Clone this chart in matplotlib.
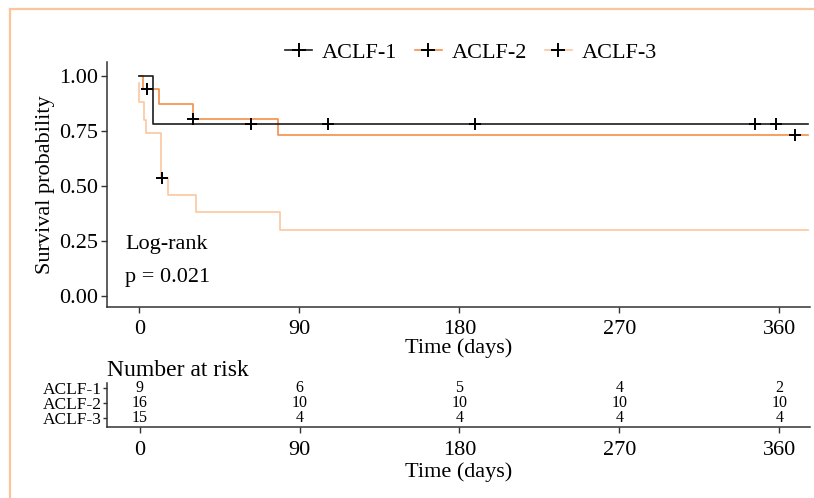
import numpy as np
import matplotlib
matplotlib.use("Agg")
import matplotlib.pyplot as plt
from matplotlib.lines import Line2D

plt.rcParams["font.family"] = ["Liberation Serif", "DejaVu Serif"]

# Kaplan-Meier steps (time in days, survival after step)
aclf1_t = [0, 7.5, 376]
aclf1_s = [1.00, 0.778, 0.778]
aclf1_cens_t = [63, 106, 189, 346, 358]
aclf1_cens_s = [0.778, 0.778, 0.778, 0.778, 0.778]

aclf2_t = [0, 2, 11, 30.5, 78, 376]
aclf2_s = [1.00, 0.9375, 0.871, 0.804, 0.731, 0.731]
aclf2_cens_t = [4.5, 30, 369]
aclf2_cens_s = [0.9375, 0.804, 0.731]

aclf3_t = [0, 0, 2.5, 4, 12, 16, 32, 79, 376]
aclf3_s = [0.968, 0.882, 0.80, 0.74, 0.533, 0.457, 0.381, 0.30, 0.30]
aclf3_cens_t = [13]
aclf3_cens_s = [0.533]

groups = ["ACLF-1", "ACLF-2", "ACLF-3"]
colors = ["#1c1c1c", "#F4904C", "#FCC6A0"]

risk_times = [0, 90, 180, 270, 360]
risk_aclf1 = [9, 6, 5, 4, 2]
risk_aclf2 = [16, 10, 10, 10, 10]
risk_aclf3 = [15, 4, 4, 4, 4]

W, H = 814, 498
fig = plt.figure(figsize=(W / 100, H / 100), dpi=100)

axc = "#333333"
fs = 16

def px_box(l, t, r, b):
    return [l / W, 1 - b / H, (r - l) / W, (b - t) / H]

ax = fig.add_axes(px_box(106.7, 61.7, 810, 307))
xlim = (-18.3, 377.2)

curves = [(aclf1_t, aclf1_s, aclf1_cens_t, aclf1_cens_s),
          (aclf2_t, aclf2_s, aclf2_cens_t, aclf2_cens_s),
          (aclf3_t, aclf3_s, aclf3_cens_t, aclf3_cens_s)]

# draw lightest first so the black one sits on top
for i in [2, 1, 0]:
    t, s, ct, cs = curves[i]
    ax.step(t, s, where="post", color=colors[i], lw=1.2, zorder=2 + (2 - i))
for i in [2, 1, 0]:
    t, s, ct, cs = curves[i]
    ax.plot(ct, cs, ls="none", marker="+", ms=9, mew=1.4, color="black", zorder=6)

ax.set_xlim(*xlim)
ax.set_ylim(-0.0523, 1.0637)
ax.set_xticks(risk_times)
ax.set_yticks([0, 0.25, 0.5, 0.75, 1.0])
ax.set_yticklabels(["0.00", "0.25", "0.50", "0.75", "1.00"])
for sp in ["top", "right"]:
    ax.spines[sp].set_visible(False)
for sp in ["left", "bottom"]:
    ax.spines[sp].set_color(axc)
    ax.spines[sp].set_linewidth(1.1)
ax.tick_params(colors=axc, labelcolor="black", labelsize=fs, length=4, width=1.0, pad=2)
ax.tick_params(axis="x", pad=5)
ax.set_xlabel("Time (days)", fontsize=fs, labelpad=0)
ax.set_ylabel("Survival probability", fontsize=fs, labelpad=3)

ax.text(-8, 0.23, "Log-rank", fontsize=fs, va="center", ha="left")
ax.text(-8, 0.08, "p = 0.021", fontsize=fs, va="center", ha="left")

handles = [Line2D([0], [0], color=colors[i], lw=1.2, marker="+", ms=10, mew=1.4,
                  markeredgecolor="black") for i in range(3)]
fig.legend(handles, groups, loc="center", bbox_to_anchor=(471 / W, 1 - 53 / H),
           ncol=3, frameon=False, fontsize=fs, handlelength=1.2, handletextpad=0.45,
           columnspacing=0.8)

# number at risk table
axr = fig.add_axes(px_box(107, 383, 810, 427))
axr.set_xlim(*xlim)
axr.set_ylim(0.4, 3.33)
rows = [risk_aclf1, risk_aclf2, risk_aclf3]
for j, vals in enumerate(rows):
    for x, v in zip(risk_times, vals):
        axr.text(x, 3 - j, str(v), ha="center", va="center", fontsize=11.5)
axr.set_yticks([3, 2, 1])
axr.set_yticklabels(groups, fontsize=12.5)
axr.set_xticks(risk_times)
for sp in ["top", "right"]:
    axr.spines[sp].set_visible(False)
for sp in ["left", "bottom"]:
    axr.spines[sp].set_color(axc)
    axr.spines[sp].set_linewidth(1.1)
axr.tick_params(axis="x", colors=axc, labelcolor="black", labelsize=fs, length=4, width=1.0, pad=6)
axr.tick_params(axis="y", colors=axc, labelcolor="black", length=3, width=1.0, pad=1)
axr.set_xlabel("Time (days)", fontsize=fs, labelpad=2)
axr.set_title("Number at risk", loc="left", fontsize=17, pad=5)

# light orange frame
frame_c = "#FBC49A"
fig.add_artist(Line2D([10 / W, 10 / W], [1 - 9 / H, 0], color=frame_c, lw=1.6,
                      transform=fig.transFigure))
fig.add_artist(Line2D([10 / W, 1], [1 - 9 / H, 1 - 9 / H], color=frame_c, lw=1.6,
                      transform=fig.transFigure))

fig.savefig("out.png", dpi=100)
